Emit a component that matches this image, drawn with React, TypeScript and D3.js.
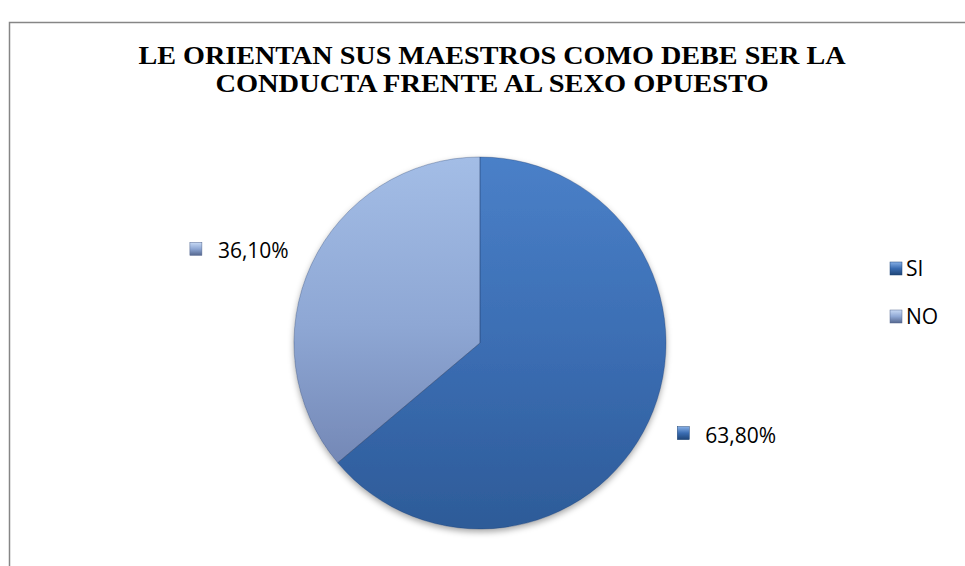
import React, { useEffect, useRef } from "react";
import * as d3 from "d3";

const categories = ["SI", "NO"];
const values = [63.8, 36.1];
const labels = ["63,80%", "36,10%"];
const titleLines = ["LE ORIENTAN SUS MAESTROS COMO DEBE SER LA", "CONDUCTA FRENTE AL SEXO OPUESTO"];

const W = 965;
const H = 566;

const palettes = [
  { top: "#4a80c8", mid: "#3a6cb1", bot: "#2d5b98", light: "#86afe6", dark: "#1f4577" },
  { top: "#a3bde6", mid: "#8ea7d4", bot: "#7488b6", light: "#c8daf5", dark: "#55678f" },
];

export default function App() {
  const ref = useRef<SVGSVGElement | null>(null);

  useEffect(() => {
    const svg = d3.select(ref.current);
    svg.selectAll("*").remove();

    const defs = svg.append("defs");
    palettes.forEach((p, i) => {
      const g = defs.append("linearGradient").attr("id", "fill" + i)
        .attr("x1", 0).attr("y1", 0).attr("x2", 0).attr("y2", 1);
      g.append("stop").attr("offset", "0%").attr("stop-color", p.top);
      g.append("stop").attr("offset", "55%").attr("stop-color", p.mid);
      g.append("stop").attr("offset", "100%").attr("stop-color", p.bot);
      const b = defs.append("linearGradient").attr("id", "bevel" + i)
        .attr("x1", 0).attr("y1", 0).attr("x2", 0.3).attr("y2", 1);
      b.append("stop").attr("offset", "0%").attr("stop-color", p.light);
      b.append("stop").attr("offset", "50%").attr("stop-color", p.mid);
      b.append("stop").attr("offset", "100%").attr("stop-color", p.dark);
      const m = defs.append("linearGradient").attr("id", "mk" + i)
        .attr("x1", 0).attr("y1", 0).attr("x2", 0).attr("y2", 1);
      m.append("stop").attr("offset", "0%").attr("stop-color", p.light);
      m.append("stop").attr("offset", "50%").attr("stop-color", p.mid);
      m.append("stop").attr("offset", "100%").attr("stop-color", p.dark);
    });
    const f = defs.append("filter").attr("id", "shadow")
      .attr("x", "-20%").attr("y", "-20%").attr("width", "140%").attr("height", "140%");
    f.append("feDropShadow").attr("dx", 0).attr("dy", 3).attr("stdDeviation", 3)
      .attr("flood-color", "#000").attr("flood-opacity", 0.35);

    // chart border
    svg.append("rect").attr("x", 9.5).attr("y", 22.5).attr("width", 1000).attr("height", 600)
      .attr("fill", "#fff").attr("stroke", "#868686").attr("stroke-width", 1.5);

    // title
    const title = svg.append("g").attr("font-family", "'Liberation Serif', 'Times New Roman', serif")
      .attr("font-weight", "bold").attr("fill", "#000").attr("text-anchor", "middle");
    const titleY = d3.scaleLinear().domain([0, 1]).range([64, 92]);
    const titleW = [707, 553];
    titleLines.forEach((t, i) => {
      title.append("text").attr("x", 492).attr("y", titleY(i)).attr("font-size", 25)
        .attr("textLength", titleW[i]).attr("lengthAdjust", "spacingAndGlyphs").text(t);
    });

    // pie
    const cx = 480, cy = 343, r = 186;
    const pie = d3.pie<number>().sort(null).startAngle(0).endAngle(2 * Math.PI);
    const arcs = pie(values);
    const arc = d3.arc<d3.PieArcDatum<number>>().innerRadius(0).outerRadius(r);
    const pg = svg.append("g").attr("transform", `translate(${cx},${cy})`);
    pg.append("g").attr("filter", "url(#shadow)")
      .selectAll("path").data(arcs).enter().append("path")
      .attr("d", arc as any).attr("fill", (_d, i) => `url(#fill${i})`);
    arcs.forEach((a, i) => {
      const cp = defs.append("clipPath").attr("id", "clip" + i);
      cp.append("path").attr("d", arc(a) as string).attr("transform", `translate(${cx},${cy})`);
      svg.append("path").attr("d", arc(a) as string).attr("transform", `translate(${cx},${cy})`)
        .attr("fill", "none").attr("stroke", `url(#bevel${i})`).attr("stroke-width", 7)
        .attr("clip-path", `url(#clip${i})`).attr("opacity", 0.85);
    });
    pg.selectAll("path.edge").data(arcs).enter().append("path").attr("class", "edge")
      .attr("d", arc as any).attr("fill", "none").attr("stroke", "#1e3a66").attr("stroke-opacity", 0.4)
      .attr("stroke-width", 0.8);

    // data labels
    const labelArc = d3.arc<d3.PieArcDatum<number>>().innerRadius(222).outerRadius(222);
    const fontFam = "'Open Sans', 'Liberation Sans', sans-serif";
    arcs.forEach((a, i) => {
      const [lx, ly] = labelArc.centroid(a);
      const px = cx + lx, py = cy + ly;
      const right = px > cx;
      const g = svg.append("g");
      const txt = g.append("text").attr("font-family", fontFam).attr("font-size", 21).attr("fill", "#000")
        .text(labels[i]);
      const tw = (txt.node() as SVGTextElement).getComputedTextLength();
      const boxLeft = right ? px - 4 : px + 10 - tw - 28;
      const base = py + (right ? 6 : 9);
      txt.attr("x", boxLeft + 28).attr("y", base);
      g.append("rect").attr("x", boxLeft).attr("y", base - 16).attr("width", 12).attr("height", 13)
        .attr("fill", `url(#mk${i})`).attr("stroke", palettes[i].dark).attr("stroke-width", 0.5);
    });

    // legend
    const ly = d3.scaleBand().domain(categories).range([246, 342]);
    const lg = svg.append("g");
    categories.forEach((c, i) => {
      const y = (ly(c) as number) + ly.bandwidth() / 2;
      lg.append("rect").attr("x", 890).attr("y", y - 8).attr("width", 12).attr("height", 13)
        .attr("fill", `url(#mk${i})`).attr("stroke", palettes[i].dark).attr("stroke-width", 0.5);
      lg.append("text").attr("x", 906).attr("y", y + 6).attr("font-family", fontFam)
        .attr("font-size", 21).attr("fill", "#000").text(c);
    });
  }, []);

  return <svg ref={ref} width={W} height={H} style={{ display: "block", position: "absolute", left: 0, top: 0 }} />;
}
